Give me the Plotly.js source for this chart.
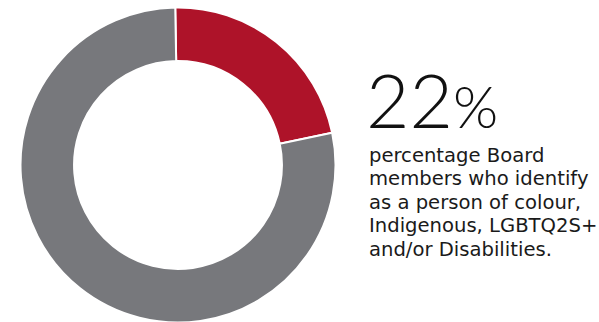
<!DOCTYPE html>
<html>
<head>
<meta charset="utf-8">
<script src="https://cdn.plot.ly/plotly-3.0.1.min.js"></script>
<style>
html,body{margin:0;padding:0;background:#fff;overflow:hidden;}
#wrap{width:599px;height:322px;overflow:hidden;}
#chart{width:599px;height:330px;}
</style>
</head>
<body>
<div id="wrap"><div id="chart"></div></div>
<script>
// Data
const categories = ['Person of colour, Indigenous, LGBTQ2S+ and/or Disabilities', 'Other Board members'];
const shares = [22, 78];
const headline = '22';
const headlineUnit = '%';
const descLines = ['percentage Board', 'members who identify', 'as a person of colour,', 'Indigenous, LGBTQ2S+', 'and/or Disabilities.'];

const W = 599, H = 330;
const px = x => x / W;
const py = y => (H - y) / H;

const cx = 178, cy = 165, R = 157.5;

const trace = {
  type: 'pie',
  labels: categories,
  values: shares,
  hole: 0.66,
  sort: false,
  direction: 'clockwise',
  rotation: -1,
  textinfo: 'none',
  hoverinfo: 'none',
  showlegend: false,
  marker: {colors: ['#AE1329', '#77787C'], line: {color: '#ffffff', width: 2}},
  domain: {x: [px(cx - R), px(cx + R)], y: [py(cy + R), py(cy - R)]}
};

const bodyFont = {family: 'DejaVu Sans, sans-serif', size: 19.6, color: '#1a1a1a'};
const lineGap = 23.4, firstBase = 165;
const annotations = [{
  xref: 'paper', yref: 'paper', x: px(364), y: py(146),
  xanchor: 'left', yanchor: 'bottom', showarrow: false,
  text: headline + '<span style="font-size:58px">' + headlineUnit + '</span>',
  font: {family: 'Lato, sans-serif', size: 75, color: '#111111', weight: 300}
}].concat(descLines.map((t, i) => ({
  xref: 'paper', yref: 'paper', x: px(367), y: py(firstBase + i * lineGap + 4),
  xanchor: 'left', yanchor: 'bottom', showarrow: false, align: 'left',
  text: t, font: bodyFont
})));

Plotly.newPlot('chart', [trace], {
  width: W, height: H,
  margin: {l: 0, r: 0, t: 0, b: 0},
  paper_bgcolor: '#ffffff', plot_bgcolor: '#ffffff',
  annotations: annotations
}, {displayModeBar: false, staticPlot: true});
</script>
</body>
</html>
